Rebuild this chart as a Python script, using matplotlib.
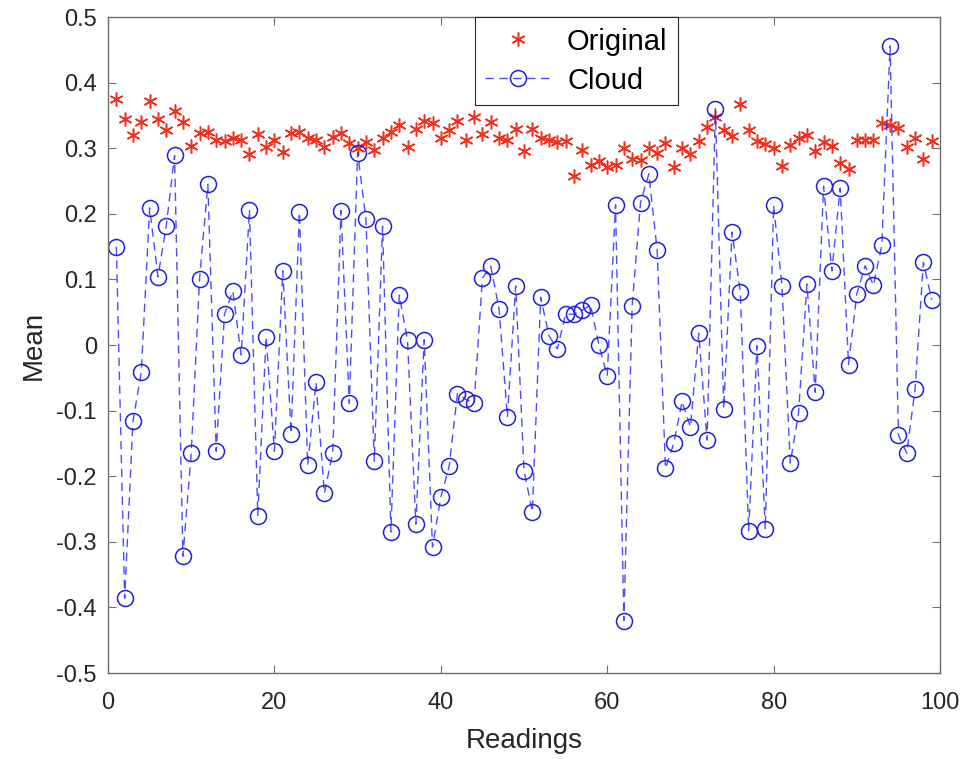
"""Original vs cloud mean per reading."""

import matplotlib
matplotlib.use("Agg")
import matplotlib.pyplot as plt
import numpy as np

plt.rcParams.update({
    "font.family": ["Liberation Sans", "DejaVu Sans"],
    "axes.unicode_minus": False,
})

readings = list(range(1, 100))

original = [
    0.375, 0.345, 0.320, 0.340, 0.372, 0.344, 0.328, 0.357, 0.340, 0.303,
    0.323, 0.324, 0.313, 0.311, 0.316, 0.312, 0.291, 0.321, 0.302, 0.312,
    0.294, 0.323, 0.325, 0.315, 0.312, 0.302, 0.317, 0.323, 0.308, 0.300,
    0.310, 0.298, 0.316, 0.325, 0.335, 0.302, 0.330, 0.341, 0.339, 0.316,
    0.327, 0.341, 0.312, 0.347, 0.322, 0.340, 0.316, 0.313, 0.330, 0.296,
    0.330, 0.316, 0.312, 0.310, 0.311, 0.257, 0.298, 0.274, 0.281, 0.271,
    0.274, 0.301, 0.283, 0.282, 0.300, 0.293, 0.308, 0.271, 0.300, 0.291,
    0.311, 0.333, 0.347, 0.327, 0.318, 0.368, 0.327, 0.311, 0.307, 0.301,
    0.273, 0.305, 0.316, 0.320, 0.296, 0.310, 0.303, 0.278, 0.269, 0.313,
    0.312, 0.313, 0.338, 0.336, 0.331, 0.302, 0.316, 0.283, 0.311,
]

cloud = [
    0.150, -0.386, -0.116, -0.041, 0.209, 0.104, 0.182, 0.289, -0.322, -0.165,
    0.101, 0.245, -0.162, 0.047, 0.082, -0.015, 0.206, -0.260, 0.012, -0.162,
    0.113, -0.135, 0.202, -0.183, -0.057, -0.226, -0.165, 0.205, -0.089, 0.293,
    0.192, -0.177, 0.181, -0.285, 0.076, 0.007, -0.273, 0.008, -0.308, -0.232,
    -0.185, -0.074, -0.083, -0.089, 0.102, 0.120, 0.055, -0.110, 0.090, -0.192,
    -0.254, 0.073, 0.014, -0.006, 0.047, 0.047, 0.053, 0.061, 0.000, -0.047,
    0.214, -0.420, 0.060, 0.217, 0.261, 0.145, -0.188, -0.150, -0.086, -0.125,
    0.018, -0.145, 0.360, -0.097, 0.172, 0.081, -0.284, -0.001, -0.281, 0.213,
    0.090, -0.180, -0.103, 0.093, -0.072, 0.242, 0.113, 0.239, -0.030, 0.078,
    0.121, 0.091, 0.152, 0.456, -0.137, -0.165, -0.067, 0.126, 0.069,
]

y_ticks = [-0.5, -0.4, -0.3, -0.2, -0.1, 0, 0.1, 0.2, 0.3, 0.4, 0.5]
y_tick_labels = ["-0.5", "-0.4", "-0.3", "-0.2", "-0.1", "0",
                 "0.1", "0.2", "0.3", "0.4", "0.5"]
x_ticks = [0, 20, 40, 60, 80, 100]

AXIS_GRAY = "#6e6e6e"
TEXT_GRAY = "#262626"

fig = plt.figure(figsize=(9.68, 7.59), dpi=100)
ax = fig.add_axes([0.1116, 0.1133, 0.8595, 0.8643])

ax.plot(readings, original, ls="none", marker=(6, 2, 0), ms=10, mew=1.1,
        color="#f0301c", label="Original")
ax.plot(readings, cloud, ls=(0, (6, 4)), lw=1.0, color=(0.12, 0.12, 1.0, 0.8),
        marker="o", ms=11.5, mfc="none", mec="#1f1fe0", mew=1.1, label="Cloud")

ax.set_xlim(0, 100)
ax.set_ylim(-0.5, 0.5)
ax.set_xticks(x_ticks)
ax.set_yticks(y_ticks)
ax.set_yticklabels(y_tick_labels)
ax.tick_params(direction="in", length=6, width=0.8, top=True, right=True,
               colors=AXIS_GRAY, labelcolor=TEXT_GRAY, labelsize=17)
ax.tick_params(axis="y", pad=8)
ax.tick_params(axis="x", pad=14)
for spine in ax.spines.values():
    spine.set_color(AXIS_GRAY)
    spine.set_linewidth(1.0)

ax.set_xlabel("Readings", fontsize=20, color=TEXT_GRAY, labelpad=10)
ax.set_ylabel("Mean", fontsize=20, color=TEXT_GRAY, labelpad=7)

leg = ax.legend(loc="upper left", bbox_to_anchor=(0.441, 1.0), borderaxespad=0,
                fontsize=21, handlelength=2.2, handletextpad=0.6,
                labelspacing=0.38, borderpad=0.36, fancybox=False, framealpha=1)
leg.get_frame().set_edgecolor(TEXT_GRAY)
leg.get_frame().set_linewidth(0.8)

fig.savefig("out.png", dpi=100)
